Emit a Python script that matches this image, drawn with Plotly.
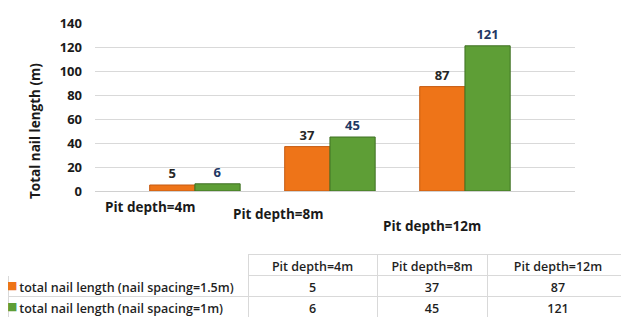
import plotly.graph_objects as go

categories = ["Pit depth=4m", "Pit depth=8m", "Pit depth=12m"]
series_names = ["total nail length (nail spacing=1.5m)", "total nail length (nail spacing=1m)"]
spacing_15 = [5, 37, 87]
spacing_10 = [6, 45, 121]
y_ticks = [0, 20, 40, 60, 80, 100, 120, 140]

# the page body has an 8px margin, so the figure is drawn 8px in from the window edge
OFF = 8
W, H = 629 - OFF, 317 - OFF
ORANGE = "#EE7418"
GREEN = "#5E9E36"
FONT = "Open Sans"

def py(pix):  # window pixel -> paper fraction
    return 1 - (pix - OFF) / H

def px(pix):
    return (pix - OFF) / W

fig = go.Figure()
fig.add_trace(go.Bar(
    x=categories, y=spacing_15, name=series_names[0],
    marker=dict(color=ORANGE, line=dict(color="#C55A11", width=1)),
    text=spacing_15, textposition="outside", cliponaxis=False,
    textfont=dict(family=FONT, size=13, color="#262626", weight="bold"),
    xaxis="x", yaxis="y", showlegend=False,
))
fig.add_trace(go.Bar(
    x=categories, y=spacing_10, name=series_names[1],
    marker=dict(color=GREEN, line=dict(color="#3F7023", width=1)),
    text=spacing_10, textposition="outside", cliponaxis=False,
    textfont=dict(family=FONT, size=13, color="#1F3864", weight="bold"),
    xaxis="x", yaxis="y", showlegend=False,
))

# Data table under the chart
header_vals = [""] + categories
nb = lambda s: s.replace(" ", "\u00a0")
first_col = ["\u00a0" + nb(series_names[0]),
             "\u00a0" + nb(series_names[1])]
cell_vals = [first_col] + [[a, b] for a, b in zip(spacing_15, spacing_10)]
TBL_TOP = 254
ROW_H = 21
fig.add_trace(go.Table(
    domain=dict(x=[0, 1], y=[0, py(TBL_TOP)]),
    columnwidth=[240, 129, 110, 142],
    header=dict(values=header_vals, height=ROW_H,
                fill_color="white",
                line=dict(color=["white", "#D9D9D9", "#D9D9D9", "#D9D9D9"], width=1),
                align="center",
                font=dict(family=FONT, size=12.5, color="#1f1f1f", weight=600)),
    cells=dict(values=cell_vals, height=ROW_H,
               fill_color="white",
               line=dict(color="#D9D9D9", width=1),
               align=["left", "center", "center", "center"],
               font=dict(family=FONT, size=12.5, color="#1f1f1f", weight=600)),
))

# legend keys inside the table's first column
for i, (name, col) in enumerate(zip(series_names, [ORANGE, GREEN])):
    fig.add_annotation(x=px(12), xref="paper", y=py(TBL_TOP + ROW_H * (i + 1.5)), yref="paper",
                       text="■", showarrow=False, xanchor="center", yanchor="middle",
                       font=dict(family="DejaVu Sans", size=11, color=col))

# staggered category labels (3-D perspective look)
label_dx = [-45, -52, -33]
label_py = [218, 225, 237]
for cat, dx, ypix in zip(categories, label_dx, label_py):
    fig.add_annotation(x=cat, xref="x", y=py(ypix), yref="paper",
                       text=cat, showarrow=False, xshift=dx,
                       font=dict(family=FONT, size=13.5, color="#1a1a1a", weight="bold"))

# y-axis title
fig.add_annotation(x=px(35), xref="paper", y=py(131), yref="paper",
                   text="Total nail length (m)", textangle=-90, showarrow=False,
                   xanchor="center", yanchor="middle",
                   font=dict(family=FONT, size=13.5, color="#1a1a1a", weight="bold"))

fig.update_layout(
    width=W, height=H,
    margin=dict(l=0, r=0, t=0, b=0, autoexpand=False),
    paper_bgcolor="white", plot_bgcolor="white",
    barmode="group", bargap=0.33, bargroupgap=0.0,
    xaxis=dict(domain=[px(95), px(575)], range=[-0.74, 2.815],
               showticklabels=False, showgrid=False, zeroline=False,
               showline=False, fixedrange=True, automargin=False),
    yaxis=dict(domain=[py(191), py(23)], range=[0, 140], automargin=False,
               tickvals=y_ticks, ticks="", showline=False,
               gridcolor="#D9D9D9", gridwidth=1,
               zeroline=True, zerolinecolor="#D0D0D0", zerolinewidth=1,
               tickfont=dict(family=FONT, size=13, color="#1a1a1a", weight="bold"),
               ticklabelstandoff=12),
)

fig.write_html("out.html")
